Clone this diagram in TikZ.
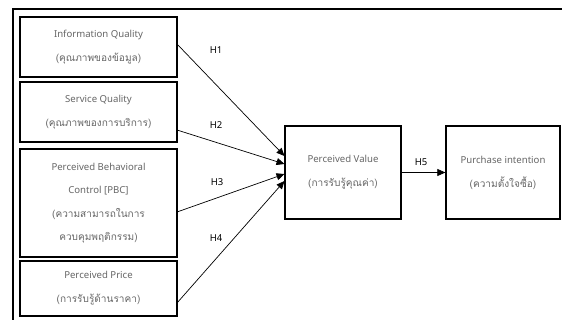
\documentclass[tikz,border=0pt]{standalone}
\usepackage{fontspec}
\setmainfont{Noto Sans}
\newfontfamily\thai[Script=Thai,Scale=1.05]{Loma}
\usetikzlibrary{arrows.meta}
\begin{document}
\begin{tikzpicture}[x=1pt,y=-1pt,
  box/.style={draw=black, line width=1.3pt, inner sep=0pt, text=black!60,
    align=center, font=\fontsize{9.6}{24}\selectfont},
  link/.style={line width=0.7pt, -{Triangle[length=8pt,width=7pt]}},
  hlabel/.style={font=\fontsize{9.5}{11}\selectfont, text=black}]
\useasboundingbox (0,0) rectangle (562,320);
\fill[white] (0,0) rectangle (562,320);
% frame
\draw[line width=1.3pt] (13,320) -- (13,9) -- (562,9);
% construct boxes
\node[box, minimum width=157pt, minimum height=60pt] (b1) at (98.5,47)
  {Information Quality\\{\thai (คุณภาพของข้อมูล)}};
\node[box, minimum width=157pt, minimum height=60pt] (b2) at (98.5,112)
  {Service Quality\\{\thai (คุณภาพของการบริการ)}};
\node[box, minimum width=157pt, minimum height=108pt, font=\fontsize{9.6}{23.5}\selectfont] (b3) at (98.5,203)
  {Perceived Behavioral\\Control [PBC]\\{\thai (ความสามารถในการ}\\{\thai ควบคุมพฤติกรรม)}};
\node[box, minimum width=157pt, minimum height=55pt] (b4) at (98.5,288.5)
  {Perceived Price\\{\thai (การรับรู้ด้านราคา)}};
\node[box, minimum width=116pt, minimum height=93pt] (pv) at (343,172.5)
  {Perceived Value\\{\thai (การรับรู้คุณค่า)}};
\node[box, minimum width=114pt, minimum height=93pt] (pi) at (503,172.5)
  {Purchase intention\\{\thai (ความตั้งใจซื้อ)}};
% connector ends
\coordinate (s1) at (177,44);
\coordinate (s2) at (177,130);
\coordinate (s3) at (177,212);
\coordinate (s4) at (177,303);
\coordinate (t1) at (284.5,156);
\coordinate (t2) at (284.5,164);
\coordinate (t3) at (284.5,174);
\coordinate (t4) at (284.5,181);
\draw[link] (s1) -- (t1);
\draw[link] (s2) -- (t2);
\draw[link] (s3) -- (t3);
\draw[link] (s4) -- (t4);
\draw[link] (pv.east) -- (pi.west);
% hypothesis labels
\node[hlabel] (h1) at (216,50) {H1};
\node[hlabel] (h2) at (216,125) {H2};
\node[hlabel] (h3) at (217,182) {H3};
\node[hlabel] (h4) at (216,238) {H4};
\node[hlabel] (h5) at (421,162) {H5};
\end{tikzpicture}
\end{document}
